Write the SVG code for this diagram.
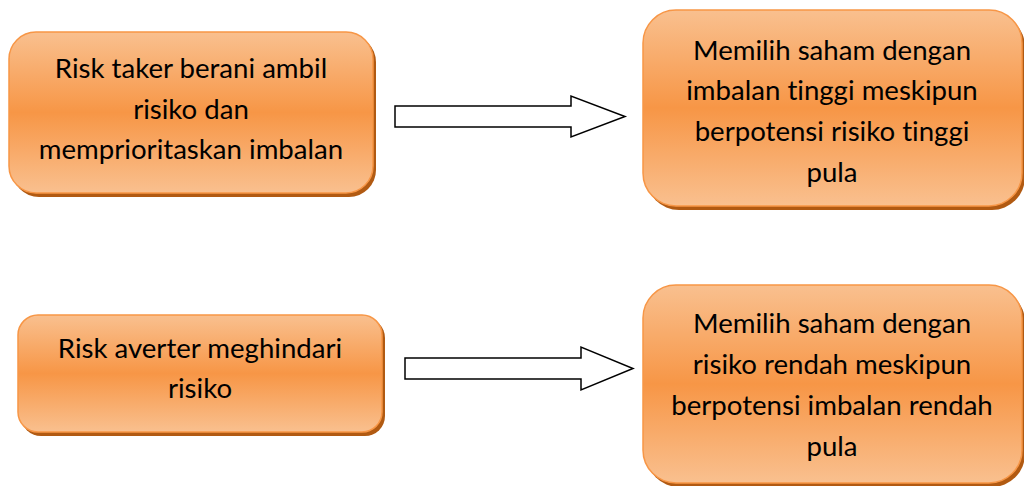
<svg xmlns="http://www.w3.org/2000/svg" width="1024" height="486" viewBox="0 0 1024 486">
<defs>
<linearGradient id="g" x1="0" y1="0" x2="0" y2="1">
<stop offset="0" stop-color="#F9C08F"/>
<stop offset="0.5" stop-color="#F79646"/>
<stop offset="1" stop-color="#F9C08F"/>
</linearGradient>
<style>
.sh{fill:#B15A12}
.bx{fill:url(#g);stroke:#F79646;stroke-width:1.5}
.t{font-family:Lato,"Open Sans",sans-serif;font-size:27.6px;fill:#000;text-anchor:middle;font-variant-ligatures:none}
.ar{fill:#fff;stroke:#000;stroke-width:1.5}
</style>
</defs>
<rect width="1024" height="486" fill="#fff"/>
<g id="n1">
<rect class="sh" x="12" y="35" width="364" height="162" rx="27"/>
<rect class="bx" x="9" y="32" width="364" height="161" rx="27"/>
<text class="t" x="191" y="78">Risk taker berani ambil</text>
<text class="t" x="191" y="119">risiko dan</text>
<text class="t" x="191" y="159">memprioritaskan imbalan</text>
</g>
<g id="n2">
<rect class="sh" x="646" y="14" width="379" height="196" rx="33"/>
<rect class="bx" x="643" y="10" width="379" height="196" rx="33"/>
<text class="t" x="832" y="60">Memilih saham dengan</text>
<text class="t" x="832" y="100">imbalan tinggi meskipun</text>
<text class="t" x="832" y="141">berpotensi risiko tinggi</text>
<text class="t" x="832" y="182">pula</text>
</g>
<g id="n3">
<rect class="sh" x="21" y="318" width="364" height="118" rx="20"/>
<rect class="bx" x="18" y="315" width="364" height="117" rx="20"/>
<text class="t" x="200" y="358">Risk averter meghindari</text>
<text class="t" x="200" y="398">risiko</text>
</g>
<g id="n4">
<rect class="sh" x="646" y="289" width="379" height="198" rx="33"/>
<rect class="bx" x="643" y="285" width="379" height="198" rx="33"/>
<text class="t" x="832" y="333">Memilih saham dengan</text>
<text class="t" x="832" y="374">risiko rendah meskipun</text>
<text class="t" x="832" y="415">berpotensi imbalan rendah</text>
<text class="t" x="832" y="456">pula</text>
</g>
<g id="connectors">
<polygon class="ar" points="395,106 571,106 571,96 625,116.5 571,137 571,127 395,127"/>
<polygon class="ar" points="405,358 581,358 581,347 633,368.5 581,390 581,379 405,379"/>
</g>
</svg>
